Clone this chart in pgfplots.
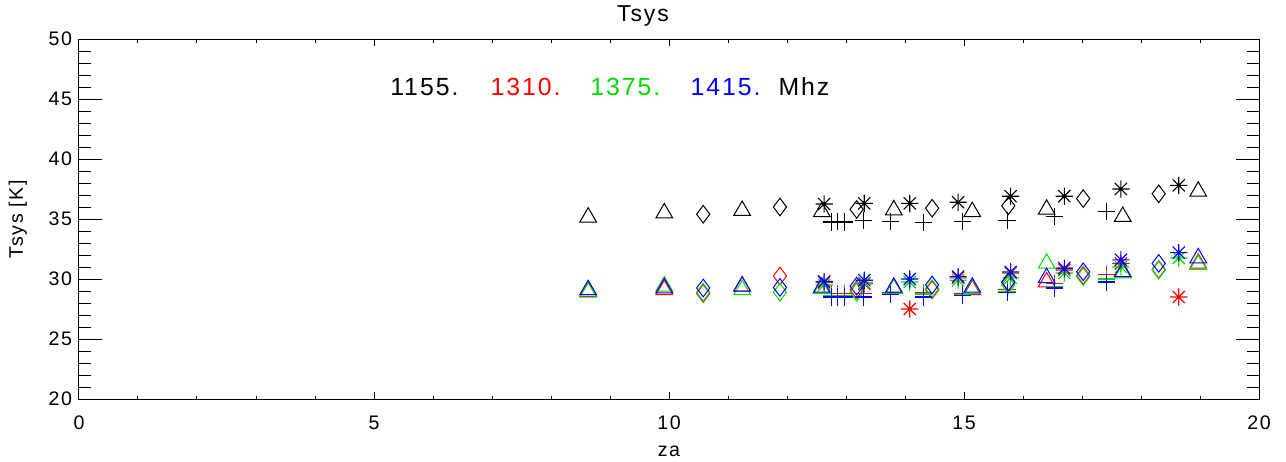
\documentclass[border=0pt]{standalone}
\usepackage{fontspec}
\setmainfont{Liberation Sans}[LetterSpace=8]
\usepackage{pgfplots}
\pgfplotsset{compat=1.18}

\definecolor{idlred}{rgb}{1,0,0}
\definecolor{idlgreen}{rgb}{0,0.86,0}
\definecolor{idlblue}{rgb}{0,0,1}

% IDL style asterisk: 4 strokes
\pgfdeclareplotmark{ast8}{%
  \pgfpathmoveto{\pgfpoint{\pgfplotmarksize}{0pt}}%
  \pgfpathlineto{\pgfpoint{-\pgfplotmarksize}{0pt}}%
  \pgfpathmoveto{\pgfpoint{0pt}{\pgfplotmarksize}}%
  \pgfpathlineto{\pgfpoint{0pt}{-\pgfplotmarksize}}%
  \pgfpathmoveto{\pgfpoint{0.707\pgfplotmarksize}{0.707\pgfplotmarksize}}%
  \pgfpathlineto{\pgfpoint{-0.707\pgfplotmarksize}{-0.707\pgfplotmarksize}}%
  \pgfpathmoveto{\pgfpoint{-0.707\pgfplotmarksize}{0.707\pgfplotmarksize}}%
  \pgfpathlineto{\pgfpoint{0.707\pgfplotmarksize}{-0.707\pgfplotmarksize}}%
  \pgfusepathqstroke}

\pgfplotsset{
  tri/.style={only marks, mark=triangle, mark size=4.8pt, mark options={line width=0.5pt}},
  dia/.style={only marks, mark=diamond, mark size=4.4pt, mark options={line width=0.5pt}},
  ast/.style={only marks, mark=ast8, mark size=4.3pt, mark options={line width=0.55pt}},
  pls/.style={only marks, mark=+, mark size=4.3pt, mark options={line width=0.55pt}},
}

\begin{document}
\begin{tikzpicture}
  \begin{axis}[
      name=main,
      width=590pt, height=180pt, scale only axis,
      xmin=0, xmax=20, ymin=20, ymax=50,
      xtick={0,5,...,20}, ytick={20,25,...,50},
      minor tick num=4,
      tick align=inside,
      major tick length=11.5pt, minor tick length=6pt,
      xtick style={draw=none},
      axis line style={line width=0.5pt},
      ytick style={line width=0.5pt, black},
      /pgf/number format/assume math mode=true,
      tick label style={font=\fontsize{9.8}{11}\selectfont},
      xticklabel style={yshift=-5pt},
      title={Tsys}, title style={font=\fontsize{11.5}{13}\selectfont, yshift=-3pt, xshift=-13pt},
      xlabel={za}, xlabel style={font=\fontsize{9.8}{11}\selectfont, yshift=-1pt},
      ylabel={Tsys [K]}, ylabel style={font=\fontsize{9.8}{11}\selectfont, yshift=4pt},
      clip=false,
    ]
    % ---- 1155 MHz (black)
    \addplot[black, tri] coordinates {(8.63,35.15) (9.92,35.5) (11.24,35.7) (12.59,35.6) (13.81,35.75) (15.14,35.6) (16.40,35.8) (17.69,35.2) (18.97,37.3)};
    \addplot[black, dia] coordinates {(10.58,35.4) (11.88,36.0) (13.18,35.8) (14.46,35.9) (15.75,36.1) (17.02,36.7) (18.30,37.1)};
    \addplot[black, ast] coordinates {(12.63,36.25) (13.31,36.3) (14.08,36.3) (14.90,36.4) (15.79,36.9) (16.70,36.9) (17.66,37.5) (18.64,37.8)};
    \addplot[black, pls] coordinates {(12.75,34.75) (12.85,34.8) (12.98,34.75) (13.29,34.9) (13.75,34.8) (14.31,34.7) (14.97,34.8) (15.73,34.9) (16.53,35.2) (17.41,35.6)};
    % ---- 1310 MHz (red)
    \addplot[idlred, tri] coordinates {(8.63,28.95) (9.92,29.1) (11.24,29.4) (12.59,29.2) (13.81,29.2) (15.14,29.1) (16.40,29.75) (17.69,30.6) (18.97,31.3)};
    \addplot[idlred, dia] coordinates {(10.58,28.8) (11.88,30.25) (13.18,29.1) (14.46,29.1) (15.75,29.7) (17.02,30.3) (18.30,30.8)};
    \addplot[idlred, ast] coordinates {(12.63,29.7) (13.31,29.6) (14.08,27.5) (14.90,30.1) (15.79,30.5) (16.70,30.75) (17.66,31.3) (18.64,28.5)};
    \addplot[idlred, pls] coordinates {(12.75,28.8) (12.85,28.8) (12.98,28.8) (13.29,28.8) (13.75,28.9) (14.31,28.9) (14.97,28.8) (15.73,29.1) (16.53,29.65) (17.41,30.4)};
    % ---- 1375 MHz (green)
    \addplot[idlgreen, tri] coordinates {(8.63,28.9) (9.92,29.4) (11.24,29.1) (12.59,29.2) (13.81,29.2) (15.14,29.2) (16.40,31.3) (17.69,30.5) (18.97,31.2)};
    \addplot[idlgreen, dia] coordinates {(10.58,28.9) (11.88,28.9) (13.18,28.9) (14.46,29.2) (15.75,29.5) (17.02,30.2) (18.30,30.75)};
    \addplot[idlgreen, ast] coordinates {(12.63,29.5) (13.31,29.7) (14.08,29.75) (14.90,29.9) (15.79,30.1) (16.70,30.5) (17.66,31.0) (18.64,31.75)};
    \addplot[idlgreen, pls] coordinates {(12.75,28.6) (12.85,28.6) (12.98,28.6) (13.29,28.5) (13.75,28.75) (14.31,28.75) (14.97,28.7) (15.73,28.95) (16.53,29.4) (17.41,30.0)};
    % ---- 1415 MHz (blue)
    \addplot[idlblue, tri] coordinates {(8.63,29.1) (9.92,29.25) (11.24,29.4) (12.59,29.3) (13.81,29.3) (15.14,29.3) (16.40,30.1) (17.69,30.6) (18.97,31.75)};
    \addplot[idlblue, dia] coordinates {(10.58,29.25) (11.88,29.3) (13.18,29.4) (14.46,29.5) (15.75,29.75) (17.02,30.6) (18.30,31.3)};
    \addplot[idlblue, ast] coordinates {(12.63,29.8) (13.31,29.9) (14.08,30.0) (14.90,30.2) (15.79,30.6) (16.70,30.9) (17.66,31.6) (18.64,32.2)};
    \addplot[idlblue, pls] coordinates {(12.75,28.5) (12.85,28.5) (12.98,28.5) (13.29,28.5) (13.75,28.7) (14.31,28.5) (14.97,28.6) (15.73,28.85) (16.53,29.25) (17.41,29.75)};

    % frequency labels, placed one by one as in the original
    \begin{scope}[every node/.style={anchor=west, inner sep=0pt, font=\fontsize{12.4}{14}\selectfont}]
      \node at (axis cs:5.27,46) {1155.};
      \node[text=idlred] at (axis cs:6.97,46) {1310.};
      \node[text=idlgreen] at (axis cs:8.66,46) {1375.};
      \node[text=idlblue] at (axis cs:10.36,46) {1415.};
      \node at (axis cs:11.85,46) {Mhz};
    \end{scope}
  \end{axis}
  % short x ticks
  \begin{axis}[
      at={(main.south west)}, anchor=south west,
      width=590pt, height=180pt, scale only axis,
      xmin=0, xmax=20, ymin=20, ymax=50,
      xtick={0,5,...,20}, xticklabels={},
      ytick=\empty,
      minor x tick num=4,
      tick align=inside,
      major tick length=3.5pt, minor tick length=1.75pt,
      axis line style={line width=0.5pt},
      xtick style={line width=0.5pt, black},
    ]
  \end{axis}
  \pgfresetboundingbox
  \path ([shift={(-39.5pt,-31pt)}]main.south west) rectangle ([shift={(13.5pt,19.5pt)}]main.north east);
\end{tikzpicture}
\end{document}
